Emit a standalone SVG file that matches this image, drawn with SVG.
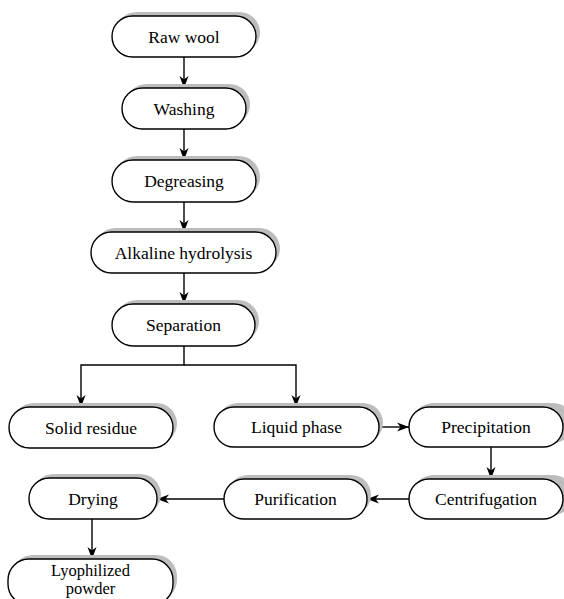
<svg xmlns="http://www.w3.org/2000/svg" width="564" height="599" viewBox="0 0 564 599">
<style>
.sh{fill:#bdbdbd;stroke:none}
.bx{fill:#fff;stroke:#000;stroke-width:1.4}
.t{font-family:"Liberation Serif","Times New Roman",serif;font-size:17.5px;fill:#000;text-anchor:middle}
.c{fill:none;stroke:#000;stroke-width:1.4}
</style>
<defs>
<marker id="ah" markerUnits="userSpaceOnUse" markerWidth="14" markerHeight="10" refX="12" refY="5" orient="auto">
<path d="M0,0.5 L12,5 L0,9.5 L3.5,5 Z" fill="#000"/>
</marker>
</defs>
<rect width="564" height="599" fill="#fff"/>
<g id="connectors">
<line class="c" x1="184" y1="57" x2="184" y2="88" marker-end="url(#ah)"/>
<line class="c" x1="184" y1="129" x2="184" y2="160" marker-end="url(#ah)"/>
<line class="c" x1="184" y1="202" x2="184" y2="232" marker-end="url(#ah)"/>
<line class="c" x1="184" y1="273" x2="184" y2="304" marker-end="url(#ah)"/>
<polyline class="c" points="184,346 184,365 81,365 81,407" marker-end="url(#ah)"/>
<polyline class="c" points="184,365 296,365 296,407" marker-end="url(#ah)"/>
<line class="c" x1="379" y1="427" x2="409" y2="427" marker-end="url(#ah)"/>
<line class="c" x1="491" y1="447" x2="491" y2="479" marker-end="url(#ah)"/>
<line class="c" x1="409" y1="499" x2="367" y2="499" marker-end="url(#ah)"/>
<line class="c" x1="224" y1="499" x2="157" y2="499" marker-end="url(#ah)"/>
<line class="c" x1="92" y1="519" x2="92" y2="559" marker-end="url(#ah)"/>
</g>
<g id="raw-wool">
<rect class="sh" x="116" y="12" width="144" height="41" rx="20.5"/>
<rect class="bx" x="112" y="16" width="144" height="41" rx="20.5"/>
<text class="t" x="184" y="42.5">Raw wool</text>
</g>
<g id="washing">
<rect class="sh" x="126" y="84" width="124" height="41" rx="20.5"/>
<rect class="bx" x="122" y="88" width="124" height="41" rx="20.5"/>
<text class="t" x="184" y="114.5">Washing</text>
</g>
<g id="degreasing">
<rect class="sh" x="116" y="156" width="144" height="42" rx="21"/>
<rect class="bx" x="112" y="160" width="144" height="42" rx="21"/>
<text class="t" x="184" y="186.5">Degreasing</text>
</g>
<g id="alkaline-hydrolysis">
<rect class="sh" x="95" y="228" width="185" height="41" rx="20.5"/>
<rect class="bx" x="91" y="232" width="185" height="41" rx="20.5"/>
<text class="t" x="183.5" y="258.5">Alkaline hydrolysis</text>
</g>
<g id="separation">
<rect class="sh" x="116" y="300" width="143" height="42" rx="21"/>
<rect class="bx" x="112" y="304" width="143" height="42" rx="21"/>
<text class="t" x="183.5" y="330.5">Separation</text>
</g>
<g id="solid-residue">
<rect class="sh" x="13" y="403" width="164" height="41" rx="20.5"/>
<rect class="bx" x="9" y="407" width="164" height="41" rx="20.5"/>
<text class="t" x="91" y="433.5">Solid residue</text>
</g>
<g id="liquid-phase">
<rect class="sh" x="218" y="403" width="165" height="40" rx="20"/>
<rect class="bx" x="214" y="407" width="165" height="40" rx="20"/>
<text class="t" x="296.5" y="433">Liquid phase</text>
</g>
<g id="precipitation">
<rect class="sh" x="413" y="403" width="160" height="40" rx="20"/>
<rect class="bx" x="409" y="407" width="154" height="40" rx="20"/>
<text class="t" x="486" y="433">Precipitation</text>
</g>
<g id="centrifugation">
<rect class="sh" x="413" y="475" width="160" height="40" rx="20"/>
<rect class="bx" x="409" y="479" width="154" height="40" rx="20"/>
<text class="t" x="486" y="505">Centrifugation</text>
</g>
<g id="purification">
<rect class="sh" x="228" y="475" width="143" height="40" rx="20"/>
<rect class="bx" x="224" y="479" width="143" height="40" rx="20"/>
<text class="t" x="295.5" y="505">Purification</text>
</g>
<g id="drying">
<rect class="sh" x="33" y="474" width="128" height="41" rx="20.5"/>
<rect class="bx" x="29" y="478" width="128" height="41" rx="20.5"/>
<text class="t" x="93" y="504.5">Drying</text>
</g>
<g id="lyophilized-powder">
<rect class="sh" x="12" y="555" width="165" height="46" rx="21"/>
<rect class="bx" x="8" y="559" width="165" height="46" rx="21"/>
<text class="t" x="90.5" y="575.5" style="font-size:16.5px">Lyophilized</text>
<text class="t" x="90.5" y="594" style="font-size:16.5px">powder</text>
</g>
</svg>
